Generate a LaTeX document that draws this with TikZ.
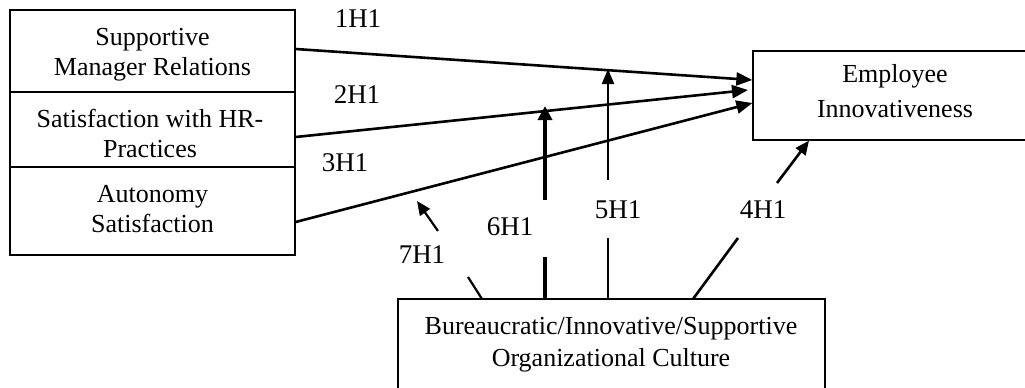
\documentclass[tikz,border=0pt]{standalone}
\usepackage{fontspec}
\setmainfont{Liberation Serif}
\usetikzlibrary{arrows.meta}
\tikzset{
  boxtext/.style={font=\fontsize{26}{30}\selectfont, align=center, inner sep=0pt},
  frame/.style={draw, line width=1.3pt},
  hlabel/.style={font=\fontsize{27}{30}\selectfont, inner sep=0pt},
  path/.style={line width=2.6pt, -{Triangle[length=16pt,width=13pt]}},
  seg/.style={line width=2.2pt},
}
\begin{document}
\begin{tikzpicture}[x=1pt,y=-1pt]
\useasboundingbox (0,0) rectangle (1025,388);
\clip (0,0) rectangle (1025,388);
% left stack
\node[frame, minimum width=285pt, minimum height=82pt, inner sep=0pt] (smr) at (152.5,51) {};
\node[boxtext] at (152.5,55) {Supportive\\Manager Relations};
\node[frame, minimum width=285pt, minimum height=75pt, inner sep=0pt] (hr) at (152.5,129.5) {};
\node[boxtext] at (150,133) {Satisfaction with HR-\\Practices};
\node[frame, minimum width=285pt, minimum height=88pt, inner sep=0pt] (aut) at (152.5,211) {};
\node[boxtext] at (152.5,209) {Autonomy\\Satisfaction};
% employee innovativeness
\node[frame, minimum width=286pt, minimum height=89pt, inner sep=0pt] (ei) at (896,95.5) {};
\node[boxtext, font=\fontsize{26}{35}\selectfont] at (895,91.5) {Employee\\Innovativeness};
% culture
\node[frame, minimum width=427pt, minimum height=120pt, inner sep=0pt] (oc) at (611.5,359) {};
\node[boxtext, font=\fontsize{26}{32}\selectfont] at (611,345) {Bureaucratic/Innovative/Supportive\\Organizational Culture};
% labels
\node[hlabel] (l1) at (358,19) {1H1};
\node[hlabel] (l2) at (357,95) {2H1};
\node[hlabel] (l3) at (345,163) {3H1};
\node[hlabel] (l4) at (763,210) {4H1};
\node[hlabel] (l5) at (618,210) {5H1};
\node[hlabel] (l6) at (510,227) {6H1};
\node[hlabel] (l7) at (422,255) {7H1};
% endpoints
\coordinate (s1) at (smr.east |- 0,49);
\coordinate (s2) at (hr.east |- 0,137);
\coordinate (s3) at (aut.east |- 0,222);
\coordinate (e1) at (ei.west |- 0,80);
\coordinate (e2) at (748,90);
\coordinate (e3) at (ei.west |- 0,103);
\draw[path] (s1) -- (e1);
\draw[path] (s2) -- (e2);
\draw[path] (s3) -- (e3);
% 5H1
\coordinate (b5) at (608,299);
\coordinate (m5a) at (608,238);
\coordinate (m5b) at (608,180);
\coordinate (t5) at (608,69);
\draw[seg] (b5) -- (m5a);
\draw[seg, -{Triangle[length=15pt,width=12pt]}] (m5b) -- (t5);
% 6H1
\coordinate (b6) at (545,299);
\coordinate (m6a) at (545,257);
\coordinate (m6b) at (545,200);
\coordinate (t6) at (545,106);
\draw[line width=4pt] (b6) -- (m6a);
\draw[line width=4pt, -{Triangle[length=14pt,width=14pt]}] (m6b) -- (t6);
% 4H1
\coordinate (b4) at (693,299);
\coordinate (m4a) at (738,238);
\coordinate (m4b) at (777,183);
\coordinate (t4) at (ei.south -| 809,0);
\draw[seg, line width=2.6pt] (b4) -- (m4a);
\draw[seg, line width=2.6pt, -{Triangle[length=14pt,width=12pt]}] (m4b) -- (t4);
% 7H1
\coordinate (b7) at (482,299);
\coordinate (m7a) at (468,277);
\coordinate (m7b) at (438,231);
\coordinate (t7) at (417,201);
\draw[seg] (b7) -- (m7a);
\draw[seg, -{Triangle[length=14pt,width=12pt]}] (m7b) -- (t7);
\end{tikzpicture}
\end{document}
